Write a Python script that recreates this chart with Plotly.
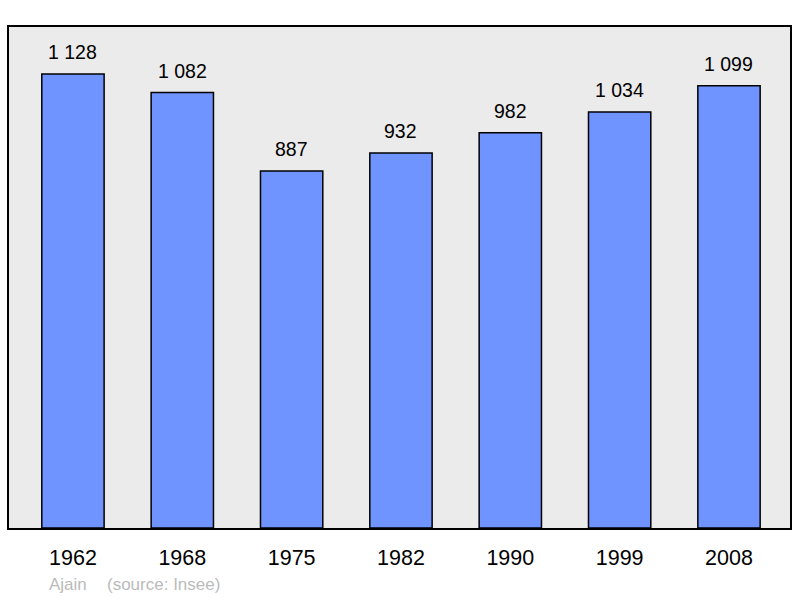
import plotly.graph_objects as go

years = ["1962", "1968", "1975", "1982", "1990", "1999", "2008"]
population = [1128, 1082, 887, 932, 982, 1034, 1099]
labels = ["1 128", "1 082", "887", "932", "982", "1 034", "1 099"]

xs = list(range(len(years)))
fig = go.Figure()
fig.add_trace(go.Bar(
    x=xs, y=population,
    marker=dict(color="#7094ff", line=dict(color="black", width=1.5)),
    width=0.57, hoverinfo="skip",
))
for x, y, t in zip(xs, population, labels):
    fig.add_annotation(x=x, y=y, text=t, showarrow=False, yanchor="middle",
                       yshift=22, font=dict(size=19.5, color="black"))
fig.add_annotation(text="Ajain", xref="paper", yref="paper",
                   x=38/781, y=-56/501, xanchor="left", yanchor="middle",
                   showarrow=False, font=dict(size=17, color="#bbbbbb"))
fig.add_annotation(text="(source: Insee)", xref="paper", yref="paper",
                   x=96/781, y=-56/501, xanchor="left", yanchor="middle",
                   showarrow=False, font=dict(size=17, color="#bbbbbb"))
fig.update_layout(
    width=800, height=598,
    margin=dict(l=9, r=10, t=27, b=70),
    paper_bgcolor="white", plot_bgcolor="#ebebeb",
    showlegend=False,
    font=dict(family="Liberation Sans, Arial", color="black"),
    xaxis=dict(range=[-0.585, 6.558], tickmode="array",
               tickvals=xs, ticktext=years,
               tickfont=dict(size=21.5), showgrid=False, zeroline=False,
               showline=True, linecolor="black", linewidth=2, mirror=True,
               ticks="outside", ticklen=9, tickcolor="rgba(0,0,0,0)"),
    yaxis=dict(range=[0, 1245], showticklabels=False, showgrid=False,
               zeroline=False, showline=True, linecolor="black", linewidth=2,
               mirror=True, ticks=""),
)
fig.write_html("out.html", config={"displayModeBar": False},
               post_script="document.body.style.margin='0';document.body.style.overflow='hidden';")
